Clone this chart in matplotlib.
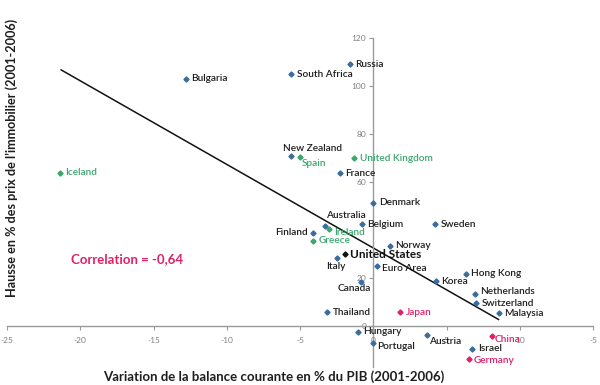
import matplotlib
matplotlib.use("Agg")
import matplotlib.pyplot as plt
import numpy as np

plt.rcParams['font.family'] = ['Lato', 'DejaVu Sans']

# Countries
countries = ['Bulgaria', 'South Africa', 'Russia', 'Iceland', 'New Zealand', 'Spain',
             'United Kingdom', 'France', 'Denmark', 'Australia', 'Belgium', 'Sweden',
             'Finland', 'Ireland', 'Greece', 'Norway', 'United States', 'Italy',
             'Euro Area', 'Canada', 'Korea', 'Hong Kong', 'Netherlands', 'Switzerland',
             'Malaysia', 'Thailand', 'Japan', 'Hungary', 'Portugal', 'Austria',
             'China', 'Israel', 'Germany']
balance = [-12.8, -5.6, -1.6, -21.4, -5.6, -5.0,
           -1.3, -2.3, 0.0, -3.3, -0.8, 4.2,
           -4.1, -3.0, -4.1, 1.15, -1.95, -2.45,
           0.25, -0.85, 4.25, 6.3, 6.95, 7.0,
           8.55, -3.15, 1.85, -1.05, -0.05, 3.7,
           8.1, 6.75, 6.55]
prices = [103, 105, 109, 63.8, 71, 70.3,
          70, 63.6, 51.5, 41.8, 42.4, 42.4,
          38.9, 40.4, 35.5, 33.5, 29.9, 28.3,
          25, 18.5, 18.8, 21.8, 13.5, 9.5,
          5.3, 5.7, 5.7, -2.4, -6.8, -3.8,
          -4.0, -9.3, -13.5]
group = ['b', 'b', 'b', 'g', 'b', 'g',
         'g', 'b', 'b', 'b', 'b', 'b',
         'b', 'g', 'g', 'b', 'k', 'b',
         'b', 'b', 'b', 'b', 'b', 'b',
         'b', 'b', 'r', 'b', 'b', 'b',
         'r', 'b', 'r']

# regression line end points
trend_x = [-21.3, 8.55]
trend_y = [106.7, 2.8]

xticks = [-25, -20, -15, -10, -5, 0, 5, 10, 15]
xticklabels = ['-25', '-20', '-15', '-10', '-5', '0', '5', '10', '-5']
yticks = [0, 20, 60, 80, 100, 120]

marker_col = {'b': '#3b6c9e', 'g': '#3aa76d', 'r': '#e0206a', 'k': '#111111'}
text_col = {'b': '#1e1e1e', 'g': '#3aa76d', 'r': '#e0206a', 'k': '#111111'}

# label offsets in pixels: dx, dy, ha
offsets = {
    'New Zealand': (-8, 7, 'left'), 'Spain': (1.5, -6, 'left'),
    'Australia': (1.5, 10, 'left'), 'Finland': (-5, 0, 'right'),
    'Ireland': (5, -3.5, 'left'), 'Italy': (-2, -8, 'center'),
    'Euro Area': (5, -2, 'left'), 'Canada': (-6, -7, 'center'),
    'Netherlands': (5, 2, 'left'), 'Portugal': (4.5, -4, 'left'),
    'Austria': (1.5, -6, 'left'), 'China': (3, -4, 'left'),
    'Germany': (4, -2, 'left'),
}

fig = plt.figure(figsize=(6, 3.85), dpi=100)
ax = fig.add_axes([7/600, 18/385, 586/600, 329/385])
ax.set_xlim(-25, 15)
ax.set_ylim(-17, 120)

for s in ['top', 'right']:
    ax.spines[s].set_visible(False)
ax.spines['left'].set_position(('data', 0))
ax.spines['bottom'].set_position(('data', 0))
for s in ['left', 'bottom']:
    ax.spines[s].set_color('#9a9a9a')
    ax.spines[s].set_linewidth(1.0)

ax.set_xticks(xticks)
ax.set_xticklabels(xticklabels)
ax.set_yticks(yticks)
ax.tick_params(axis='x', direction='out', length=3, pad=5, labelsize=6, colors='#9a9a9a', labelcolor='#808080')
ax.tick_params(axis='y', direction='out', length=3, pad=2, labelsize=6, colors='#9a9a9a', labelcolor='#808080')

ax.plot(trend_x, trend_y, color='#111111', linewidth=1.1, zorder=2)

for name, x, y, g in zip(countries, balance, prices, group):
    ax.plot(x, y, marker='D', markersize=2.6, color=marker_col[g], linestyle='none', zorder=3)
    dx, dy, ha = offsets.get(name, (5.5, 0, 'left'))
    bold = name == 'United States'
    ax.annotate(name, (x, y), xytext=(dx, dy), textcoords='offset pixels',
                ha=ha, va='center', color=text_col[g],
                fontsize=8.5 if bold else 7.3, fontweight='bold' if bold else 'semibold',
                zorder=4)

ax.text(-20.6, 28, 'Correlation = -0,64', color='#e0206a', fontsize=9.5,
        fontweight='bold', va='center', ha='left')

fig.text(274/600, 1 - 377/385, 'Variation de la balance courante en % du PIB (2001-2006)',
         ha='center', va='center', fontsize=9.5, fontweight='bold', color='#1e1e1e')
fig.text(12/600, 1 - 158/385, "Hausse en % des prix de l\u2019immobilier (2001-2006)",
         ha='center', va='center', rotation=90, fontsize=9.1, fontweight='bold', color='#1e1e1e')

fig.savefig('out.png', dpi=100)
